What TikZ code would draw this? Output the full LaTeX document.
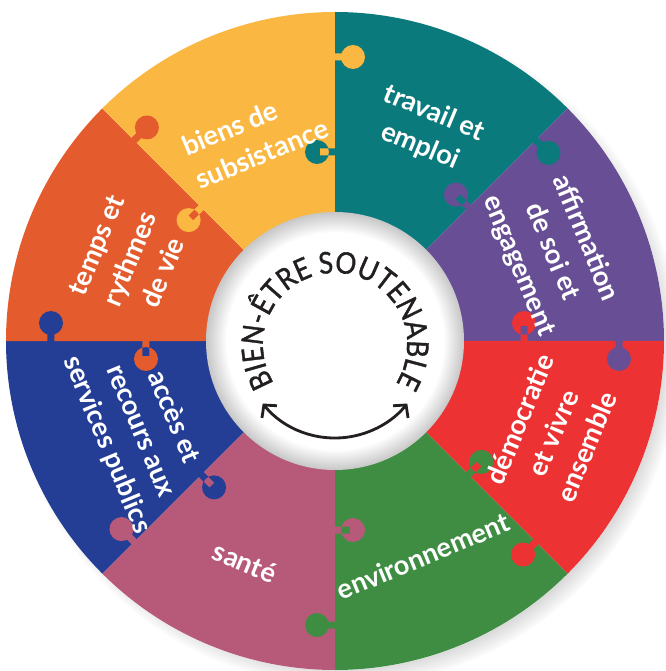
\documentclass[tikz,border=0pt]{standalone}
\usepackage{fontspec}
\setmainfont{Lato}
\newfontfamily\coeurfont[FakeStretch=0.88,FakeBold=1.2]{Lato}
\usetikzlibrary{shadows,decorations.text,arrows.meta}

\definecolor{bienjaune}{RGB}{250,184,66}
\definecolor{bienteal}{RGB}{11,122,125}
\definecolor{bienviolet}{RGB}{103,78,149}
\definecolor{bienrouge}{RGB}{237,50,52}
\definecolor{bienvert}{RGB}{62,141,66}
\definecolor{bienrose}{RGB}{183,90,122}
\definecolor{bienbleu}{RGB}{36,62,150}
\definecolor{bienorange}{RGB}{228,92,45}
\definecolor{bienencre}{RGB}{35,31,32}

\pgfdeclareradialshading{discrim}{\pgfpoint{0bp}{0bp}}{color(0bp)=(white); color(21bp)=(white); color(25bp)=(black!22); color(50bp)=(black!22)}

\begin{document}
\begin{tikzpicture}[
	theme/.style={white, font=\bfseries\fontsize{15.5}{20.5}\selectfont, align=center, inner sep=0pt}
]
	\useasboundingbox (-6.70,-6.60) rectangle (6.60,6.82);
	% wheel and its shadow
	\fill[white, circular drop shadow={shadow xshift=5pt, shadow yshift=-5pt, shadow scale=1.02, opacity=.75}] (0,0) circle (6.58);
	\foreach \a/\col in {45/bienteal, 0/bienviolet, -45/bienrouge, -90/bienvert, -135/bienrose, 180/bienbleu, 135/bienorange, 90/bienjaune}
		\fill[\col] (0,0) -- (\a:6.58) arc (\a:\a+45:6.58) -- cycle;
	% puzzle knobs on every seam
	\foreach \a/\ccw/\cw in {90/bienjaune/bienteal, 45/bienteal/bienviolet, 0/bienviolet/bienrouge, -45/bienrouge/bienvert, -90/bienvert/bienrose, -135/bienrose/bienbleu, 180/bienbleu/bienorange, 135/bienorange/bienjaune}{
		\begin{scope}[rotate=\a]
			\fill[\ccw] (5.61,0.03) rectangle (5.75,-0.30) (5.68,-0.36) circle (0.24);
			\fill[\cw] (3.71,-0.03) rectangle (3.85,0.30) (3.78,0.36) circle (0.24);
		\end{scope}
	}
	\node[circle, shade, shading=discrim, minimum size=5.16cm, inner sep=0pt] (coeur) at (0,0) {};
	\coordinate (axe) at (0,-0.08);
	\path[decorate, decoration={text along path, text align=center, text color=bienencre,
		text={|\coeurfont\fontsize{17}{18}\selectfont|BIEN-ÊTRE SOUTENABLE}}] (axe) ++(213:1.44) arc (213:-33:1.44);
	\draw[bienencre, line width=1.6pt, {Straight Barb[length=5pt,width=11pt]}-{Straight Barb[length=5pt,width=11pt]}] (axe) ++(-141:1.86) arc (-141:-39:1.86);

	\node[theme, align=left, rotate=22.5] (biens) at (-1.60,4.08) {biens de\\subsistance};
	\node[theme, rotate=-22.5] (travail) at (1.84,4.22) {travail et\\emploi};
	\node[theme, rotate=-67.5] (affirmation) at (4.34,1.78) {affirmation\\de soi et\\engagement};
	\node[theme, rotate=67.5] (democratie) at (4.36,-1.84) {démocratie\\et vivre\\ensemble};
	\node[theme, rotate=22.5] (environnement) at (1.76,-4.30) {environnement};
	\node[theme, rotate=-22.5] (sante) at (-1.80,-4.42) {santé};
	\node[theme, rotate=-67.5] (services) at (-3.90,-1.80) {accès et\\recours aux\\services publics};
	\node[theme, rotate=67.5] (temps) at (-4.10,1.64) {temps et\\rythmes\\de vie};
\end{tikzpicture}
\end{document}
